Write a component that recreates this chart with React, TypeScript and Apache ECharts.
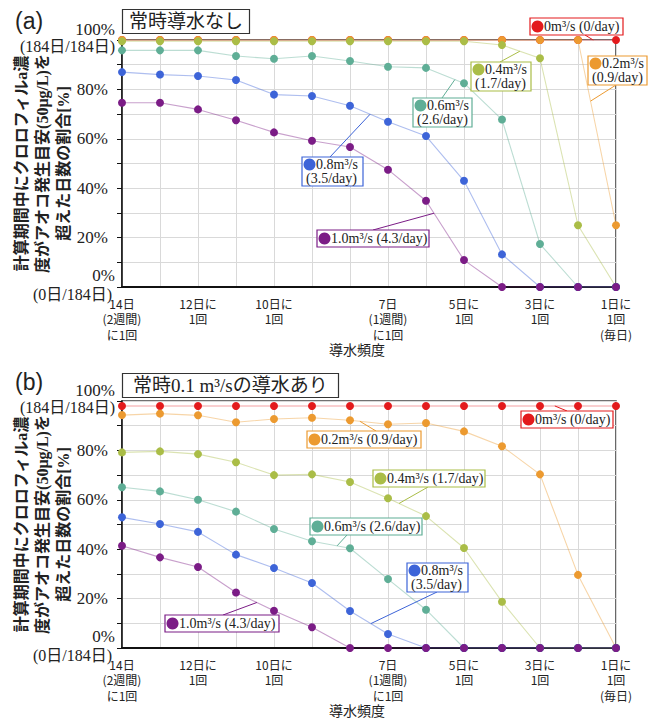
import React, { useEffect, useRef } from 'react';
import * as echarts from 'echarts';

// ---- data ----
const days = [14, 13, 12, 11, 10, 9, 8, 7, 6, 5, 4, 3, 2, 1];
const tickLabels: Record<number, string> = {
  14: '14日\n(2週間)\nに1回',
  12: '12日に\n1回',
  10: '10日に\n1回',
  7: '7日\n(1週間)\nに1回',
  5: '5日に\n1回',
  3: '3日に\n1回',
  1: '1日に\n1回\n(毎日)',
};
const yEndLabels: Record<number, string[]> = {
  100: ['100%', '(184日/184日)'],
  0: ['0%', '(0日/184日)'],
};
const seriesNames = ['0m³/s (0/day)', '0.2m³/s (0.9/day)', '0.4m³/s (1.7/day)', '0.6m³/s (2.6/day)', '0.8m³/s (3.5/day)', '1.0m³/s (4.3/day)'];

// (a) 常時導水なし
const redA = [100, 100, 100, 100, 100, 100, 100, 100, 100, 100, 100, 100, 100, 100];
const orangeA = [100, 100, 100, 100, 100, 100, 100, 100, 100, 100, 100, 100, 100, 25];
const yellowA = [99.5, 99.5, 99.5, 99.5, 99.5, 99.5, 99.5, 99.5, 99.5, 99.5, 98, 92.6, 25, 0];
const tealA = [95.8, 95.8, 95.8, 93.5, 92.4, 93.5, 91.5, 89.2, 88.7, 82.5, 67.8, 17.4, 0, 0];
const blueA = [87, 86, 85.4, 83.8, 77.9, 77.3, 73.4, 66.9, 61.1, 43, 13.2, 0, 0, 0];
const purpleA = [74.6, 74.6, 71.9, 67.5, 62.6, 59.2, 56.7, 47.5, 34.9, 10.9, 0, 0, 0, 0];

// (b) 常時0.1 m³/sの導水あり
const redB = [98, 98, 98, 98, 98, 98, 98, 98, 98, 98, 98, 98, 98, 98];
const orangeB = [94.3, 94.9, 94.2, 91.4, 92.7, 93.2, 92.2, 90.6, 91.1, 87.7, 81.7, 70.3, 29.6, 0];
const yellowB = [79.2, 79.6, 78.5, 75.2, 70.0, 70.3, 67.2, 60.6, 53.4, 40.5, 18.7, 0, 0, 0];
const tealB = [65.1, 63.4, 60.0, 55.2, 48.2, 43.2, 40.4, 27.9, 15.5, 0, 0, 0, 0, 0];
const blueB = [52.9, 50.2, 47.0, 37.8, 32.4, 26.3, 15.0, 5.7, 0, 0, 0, 0, 0, 0];
const purpleB = [41.4, 36.7, 32.8, 22.5, 15.1, 8.4, 0, 0, 0, 0, 0, 0, 0, 0];

const panels = [
  [redA, orangeA, yellowA, tealA, blueA, purpleA],
  [redB, orangeB, yellowB, tealB, blueB, purpleB],
];

const colors = ['#E31A1C', '#EC9A30', '#AABD47', '#5FAE96', '#3D64D8', '#7B1C86'];

// annotation layout (label boxes); anchors are computed from the data
type Ann = { p: number; s: number; seg: number; t: number; box: number[]; lines: string[]; from: number[] };
const anns: Ann[] = [
  { p: 0, s: 0, seg: 12, t: 0.4, box: [530, 18, 93, 17], lines: ['0m³/s (0/day)'], from: [585, 35] },
  { p: 0, s: 1, seg: 12, t: 0.33, box: [588, 56, 59, 29], lines: ['0.2m³/s', '(0.9/day)'], from: [616, 85] },
  { p: 0, s: 2, seg: 10, t: 0.47, box: [471, 62, 60, 29], lines: ['0.4m³/s', '(1.7/day)'], from: [500, 62] },
  { p: 0, s: 3, seg: 8, t: 0.76, box: [413, 98, 59, 29], lines: ['0.6m³/s', '(2.6/day)'], from: [442, 98] },
  { p: 0, s: 4, seg: 6, t: 0.53, box: [302, 157, 61, 29], lines: ['0.8m³/s', '(3.5/day)'], from: [330, 157] },
  { p: 0, s: 5, seg: 8, t: 0.21, box: [317, 230, 112, 17], lines: ['1.0m³/s (4.3/day)'], from: [373, 230] },
  { p: 1, s: 0, seg: 11, t: 0.39, box: [521, 411, 92, 17], lines: ['0m³/s (0/day)'], from: [567, 411] },
  { p: 1, s: 1, seg: 6, t: 0.26, box: [307, 431, 114, 17], lines: ['0.2m³/s (0.9/day)'], from: [376, 431] },
  { p: 1, s: 2, seg: 7, t: 0.29, box: [373, 470, 112, 17], lines: ['0.4m³/s (1.7/day)'], from: [428, 487] },
  { p: 1, s: 3, seg: 5, t: 0.66, box: [310, 518, 112, 17], lines: ['0.6m³/s (2.6/day)'], from: [347, 535] },
  { p: 1, s: 4, seg: 6, t: 0.55, box: [407, 563, 61, 29], lines: ['0.8m³/s', '(3.5/day)'], from: [437, 592] },
  { p: 1, s: 5, seg: 3, t: 0.55, box: [165, 615, 114, 17], lines: ['1.0m³/s (4.3/day)'], from: [223, 615] },
];

const SERIF = "'Liberation Serif', 'Noto Sans CJK JP', serif";
const JP = "'Noto Sans CJK JP', sans-serif";

export default function App() {
  const ref = useRef<HTMLDivElement>(null);
  useEffect(() => {
    if (!ref.current) return;
    const chart = echarts.init(ref.current, null, { renderer: 'svg' });
    const tops = [40, 401];
    const grid = tops.map((t) => ({
      left: 122, top: t, width: 494, height: 247, show: true,
      borderColor: '#444', borderWidth: 1.6, backgroundColor: 'transparent',
    }));
    const xAxis = tops.map((_, p) => ({
      type: 'value', gridIndex: p, min: 1, max: 14, interval: 1, inverse: true,
      axisLine: { show: true, onZero: false, lineStyle: { color: '#111', width: 2 } },
      axisTick: { show: false },
      splitLine: { show: true, lineStyle: { color: '#d9d9d9', width: 1 } },
      axisLabel: {
        formatter: (v: number) => tickLabels[v] ?? '',
        fontSize: 12, lineHeight: 15.3, fontFamily: JP, color: '#222', margin: 9,
        showMinLabel: true, showMaxLabel: true,
      },
      name: '導水頻度', nameLocation: 'middle', nameGap: 55, nameMoveOverlap: false,
      nameTextStyle: { fontSize: 14, lineHeight: 14, fontFamily: JP, color: '#222', padding: [0, 24, 0, 0] },
    }));
    const yAxis = tops.map((_, p) => ({
      type: 'value', gridIndex: p, min: 0, max: 100, interval: 10,
      axisLine: { show: true, lineStyle: { color: '#111', width: 1.5 } },
      axisTick: { show: true, length: 5, lineStyle: { color: '#111' } },
      splitLine: { show: true, lineStyle: { color: '#d9d9d9', width: 1 } },
      axisLabel: {
        margin: 14, fontSize: 17, fontFamily: SERIF, color: '#222',
        formatter: (v: number) => (v === 100 || v === 0 ? '' : v % 20 === 0 ? `${v}%` : ''),
      },
      name: '計算期間中にクロロフィルa濃\n度がアオコ発生目安(50μg/L)を\n超えた日数の割合[%]',
      nameLocation: 'middle', nameRotate: 90, nameGap: 48, nameMoveOverlap: false,
      nameTextStyle: { fontSize: 16, fontWeight: 'bold', lineHeight: 21, fontFamily: SERIF, color: '#222' },
    }));
    const series: any[] = [];
    panels.forEach((arrs, p) => {
      arrs.forEach((arr, s) => {
        series.push({
          type: 'line', name: seriesNames[s], xAxisIndex: p, yAxisIndex: p,
          data: days.map((d, i) => [d, arr[i]]),
          symbol: 'circle', symbolSize: 8, showSymbol: true,
          itemStyle: { color: colors[s] },
          lineStyle: { color: colors[s], width: 1.1, opacity: 0.42 },
          z: 2 + s,
        });
      });
    });
    const titleStyle = { fontSize: 19, fontWeight: 'normal', fontFamily: SERIF, color: '#222' };
    const labStyle = { fontSize: 23, fontWeight: 'normal', fontFamily: "'Liberation Sans', sans-serif", color: '#222' };
    chart.setOption({
      animation: false,
      backgroundColor: '#fff',
      title: [
        { text: '(a)', left: 15, top: 9, padding: 0, textStyle: labStyle },
        { text: '常時導水なし', left: 122, top: 9, padding: [3, 7], borderColor: '#333', borderWidth: 1.2, textStyle: titleStyle },
        { text: '(b)', left: 15, top: 370, padding: 0, textStyle: labStyle },
        { text: '常時0.1 m³/sの導水あり', left: 122, top: 373, padding: [3, 11], borderColor: '#333', borderWidth: 1.2, textStyle: titleStyle },
      ],
      grid, xAxis, yAxis, series,
    });

    const graphic: any[] = [];
    // end labels of the y axis (two lines each)
    [0, 1].forEach((p) => {
      [100, 0].forEach((v) => {
        const pt = chart.convertToPixel({ seriesIndex: p * 6 }, [days[0], v]) as number[];
        const [l1, l2] = yEndLabels[v];
        const y1 = v === 100 ? pt[1] - 10.5 : pt[1] - 11.5;
        const y2 = v === 100 ? pt[1] + 6 : pt[1] + 7;
        const x2 = v === 100 ? pt[0] - 7 : pt[0] - 10;
        graphic.push({ type: 'text', x: pt[0] - 7, y: y1, style: { text: l1, fontSize: 17, fontFamily: SERIF, fill: '#222', align: 'right', verticalAlign: 'middle' } });
        graphic.push({ type: 'text', x: x2, y: y2, style: { text: l2, fontSize: 16, fontFamily: SERIF, fill: '#222', align: 'right', verticalAlign: 'middle' } });
      });
    });
    // annotations
    anns.forEach((a) => {
      const arr = panels[a.p][a.s];
      const col = colors[a.s];
      const x = days[a.seg] - a.t;
      const y = arr[a.seg] + a.t * (arr[a.seg + 1] - arr[a.seg]);
      const pt = chart.convertToPixel({ seriesIndex: a.p * 6 + a.s }, [x, y]) as number[];
      const [bx, by, bw, bh] = a.box;
      graphic.push({ type: 'line', z: 100, shape: { x1: a.from[0], y1: a.from[1], x2: pt[0], y2: pt[1] }, style: { stroke: col, lineWidth: 1 } });
      graphic.push({ type: 'rect', z: 101, shape: { x: bx, y: by, width: bw, height: bh }, style: { fill: '#fff', stroke: col, lineWidth: 1.2 } });
      const l1 = a.lines.length === 1 ? by + bh / 2 : by + 7.5;
      graphic.push({ type: 'circle', z: 102, shape: { cx: bx + 7.5, cy: l1, r: 6 }, style: { fill: col } });
      graphic.push({ type: 'text', z: 102, x: bx + 14, y: l1, style: { text: a.lines[0], fontSize: 14, fontFamily: SERIF, fill: '#222', verticalAlign: 'middle', align: 'left' } });
      if (a.lines[1]) {
        graphic.push({ type: 'text', z: 102, x: bx + 4, y: by + 21.5, style: { text: a.lines[1], fontSize: 14, fontFamily: SERIF, fill: '#222', verticalAlign: 'middle', align: 'left' } });
      }
    });
    chart.setOption({ graphic });
    return () => chart.dispose();
  }, []);
  return <div ref={ref} style={{ position: 'fixed', left: 0, top: 0, width: 662, height: 718, background: '#fff' }} />;
}
